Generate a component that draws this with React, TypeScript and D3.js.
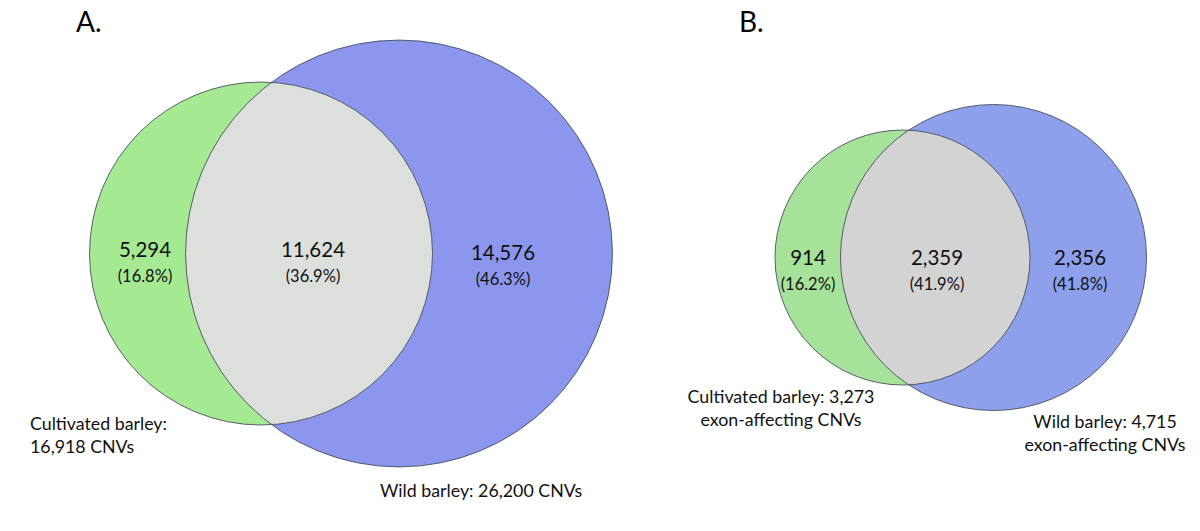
import React from "react";
import * as d3 from "d3";

// Panel A data
const panelATitle = "A.";
const panelACounts = [5294, 11624, 14576]; // cultivated only, shared, wild only
const panelAPercents = ["(16.8%)", "(36.9%)", "(46.3%)"];
const panelATotals = [16918, 26200];
const panelALabels = [["Cultivated barley:", "16,918 CNVs"], ["Wild barley: 26,200 CNVs"]];

// Panel B data
const panelBTitle = "B.";
const panelBCounts = [914, 2359, 2356];
const panelBPercents = ["(16.2%)", "(41.9%)", "(41.8%)"];
const panelBTotals = [3273, 4715];
const panelBLabels = [["Cultivated barley: 3,273", "exon-affecting CNVs"], ["Wild barley: 4,715", "exon-affecting CNVs"]];

const fmt = d3.format(",");

type PanelProps = {
  id: string;
  title: string;
  titleX: number;
  counts: number[];
  percents: string[];
  totals: number[];
  labels: string[][];
  cy: number;
  greenCx: number;
  greenR: number;
  blueCx: number;
  textX: number[];
  textY: number[];
  labelPos: { x: number; y: number; anchor: string }[];
  colors: { green: string; blue: string; gray: string };
};

function Panel(p: PanelProps) {
  const r = d3.scaleSqrt().domain([0, p.totals[0]]).range([0, p.greenR]);
  const rg = r(p.totals[0]);
  const rb = r(p.totals[1]);
  const stroke = "#4a4f5a";
  const font = "Lato, 'Open Sans', sans-serif";
  return (
    <g>
      <defs>
        <clipPath id={`clip-blue-${p.id}`}>
          <circle cx={p.blueCx} cy={p.cy} r={rb} />
        </clipPath>
      </defs>
      <text x={p.titleX} y={32} fontFamily={font} fontSize={28} fill="#000">{p.title}</text>
      <circle cx={p.greenCx} cy={p.cy} r={rg} fill={p.colors.green} />
      <circle cx={p.blueCx} cy={p.cy} r={rb} fill={p.colors.blue} />
      <circle cx={p.greenCx} cy={p.cy} r={rg} fill={p.colors.gray} clipPath={`url(#clip-blue-${p.id})`} />
      <circle cx={p.greenCx} cy={p.cy} r={rg} fill="none" stroke={stroke} strokeWidth={0.9} />
      <circle cx={p.blueCx} cy={p.cy} r={rb} fill="none" stroke={stroke} strokeWidth={0.9} />
      {p.counts.map((c, i) => (
        <g key={i}>
          <text x={p.textX[i]} y={p.textY[i]} textAnchor="middle" fontFamily={font} fontSize={20.5} fill="#111">{fmt(c)}</text>
          <text x={p.textX[i]} y={p.textY[i] + 25} textAnchor="middle" fontFamily={font} fontSize={16.5} fill="#111">{p.percents[i]}</text>
        </g>
      ))}
      {p.labels.map((lines, i) => (
        <text key={i} x={p.labelPos[i].x} y={p.labelPos[i].y} textAnchor={p.labelPos[i].anchor as any} fontFamily={font} fontSize={17.8} fill="#111">
          {lines.map((l, j) => (
            <tspan key={j} x={p.labelPos[i].x} dy={j === 0 ? 0 : 23}>{l}</tspan>
          ))}
        </text>
      ))}
    </g>
  );
}

export default function App() {
  return (
    <svg width={1200} height={531} style={{ position: "absolute", left: 0, top: 0, background: "#fff" }}>
      <rect width={1200} height={531} fill="#fff" />
      <Panel
        id="a"
        title={panelATitle}
        titleX={76}
        counts={panelACounts}
        percents={panelAPercents}
        totals={panelATotals}
        labels={panelALabels}
        cy={253.5}
        greenCx={261}
        greenR={171.5}
        blueCx={399}
        textX={[145, 313, 503]}
        textY={[257, 257, 260]}
        labelPos={[{ x: 30, y: 430, anchor: "start" }, { x: 380, y: 497, anchor: "start" }]}
        colors={{ green: "#a5ea93", blue: "#8b96ee", gray: "#dcdfdc" }}
      />
      <Panel
        id="b"
        title={panelBTitle}
        titleX={739}
        counts={panelBCounts}
        percents={panelBPercents}
        totals={panelBTotals}
        labels={panelBLabels}
        cy={257.5}
        greenCx={902.5}
        greenR={127.5}
        blueCx={993.5}
        textX={[808, 937, 1080]}
        textY={[265, 265, 265]}
        labelPos={[{ x: 781, y: 403, anchor: "middle" }, { x: 1105, y: 428, anchor: "middle" }]}
        colors={{ green: "#a7e29a", blue: "#8ea0eb", gray: "#d3d3d3" }}
      />
    </svg>
  );
}
